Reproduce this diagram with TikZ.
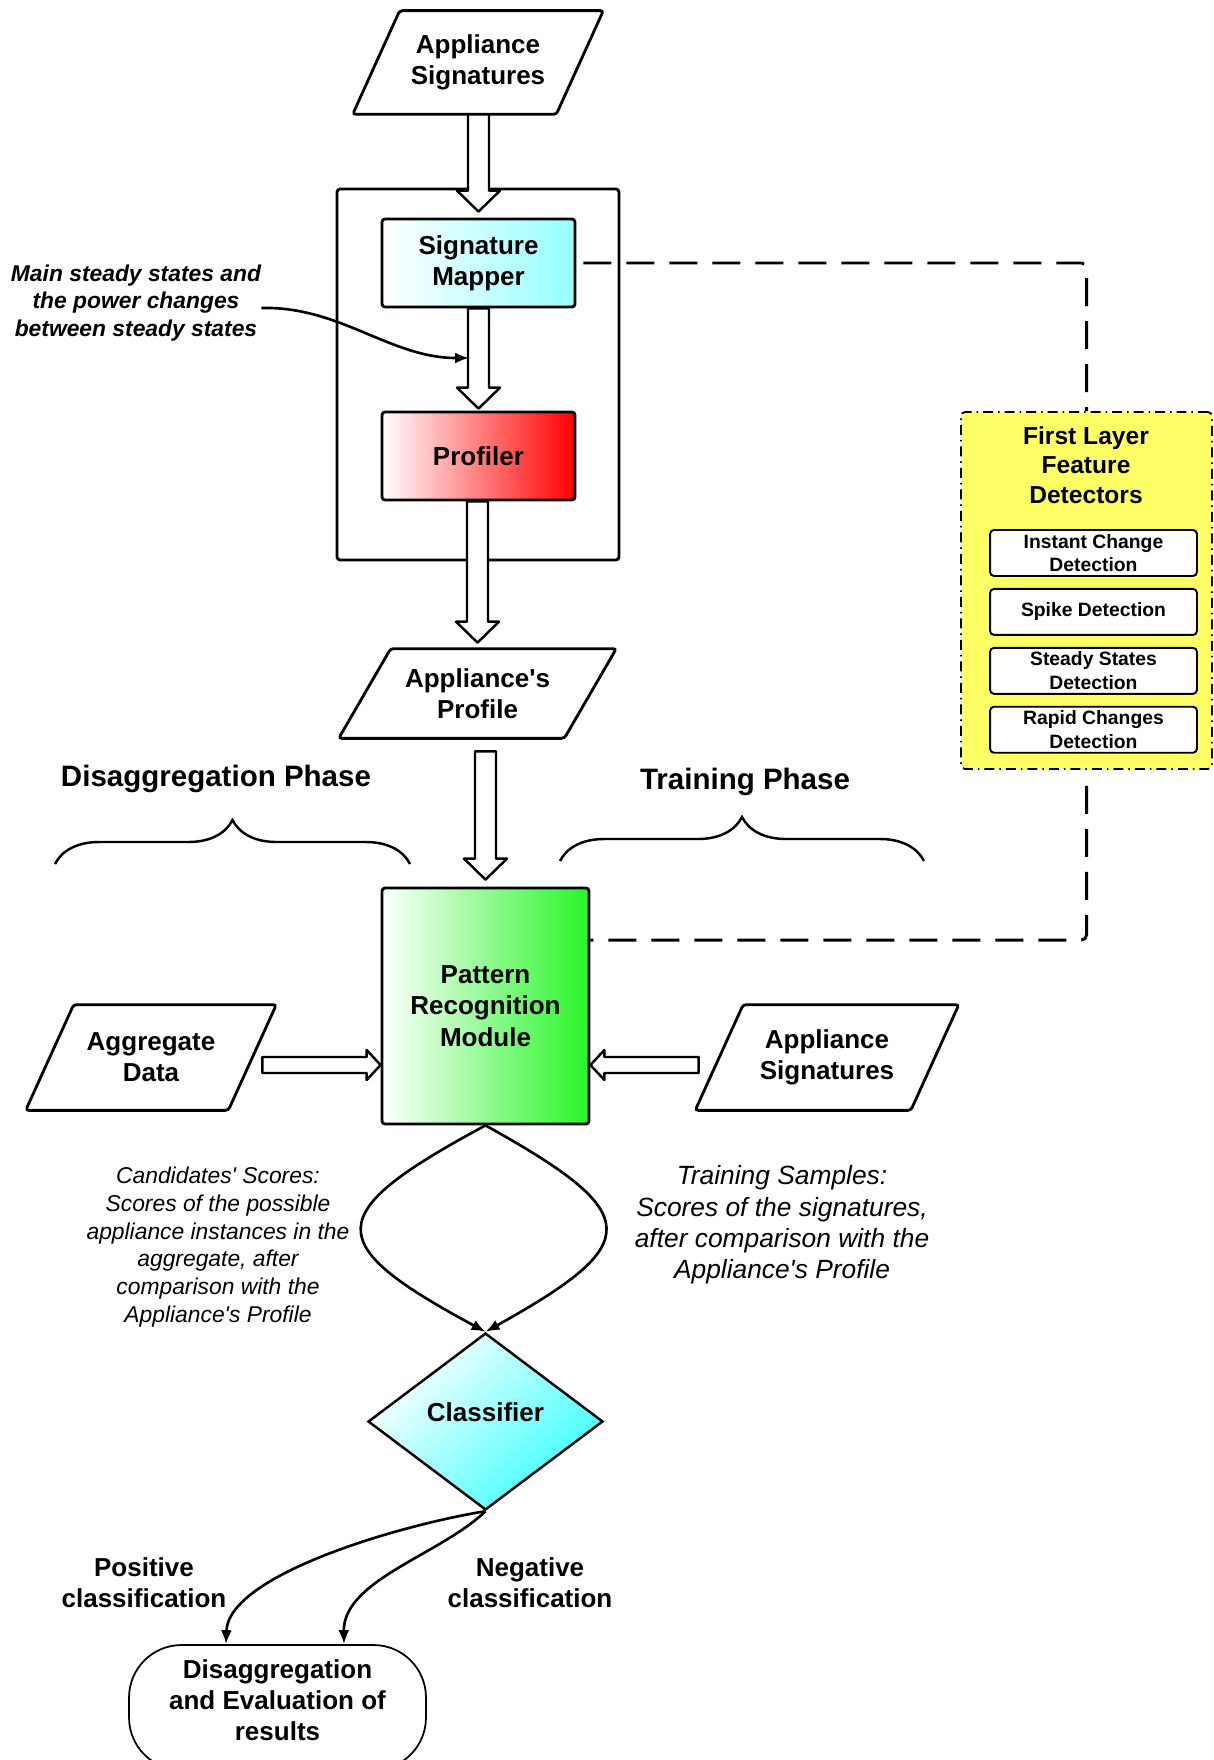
\documentclass[tikz,border=0pt]{standalone}
\usepackage{fontspec}
\setmainfont{Liberation Sans}
\usepackage{tikz}
\usetikzlibrary{calc,positioning,shapes.geometric,arrows.meta,decorations.pathreplacing}

\definecolor{mapcyan}{RGB}{150,255,255}
\definecolor{profred}{RGB}{255,0,0}
\definecolor{prmgreen}{RGB}{40,245,40}
\definecolor{clscyan}{RGB}{60,255,255}
\definecolor{layeryellow}{RGB}{255,255,102}

\newcommand{\boxfont}{\fontsize{14.8}{17.8}\selectfont\bfseries}
\newcommand{\titlefont}{\fontsize{14}{16.9}\selectfont\bfseries}
\newcommand{\detfont}{\fontsize{11}{13.4}\selectfont\bfseries}
\newcommand{\phasefont}{\fontsize{16.8}{20}\selectfont\bfseries}
\newcommand{\scorefont}{\fontsize{13}{15.8}\selectfont\itshape}

% parallelogram round a data node, #2 is half the slant
\newcommand{\slantframe}[2]{%
  \draw[frame] ([xshift=#2]#1.north west) -- ([xshift=#2]#1.north east)
    -- ([xshift=-#2]#1.south east) -- ([xshift=-#2]#1.south west) -- cycle;}
% block arrow pointing down, x taken from the tip
\newcommand{\hollowdown}[2]{%
  \draw[hollow] let \p1=(#1), \p2=(#2) in
    (\x2-0.21cm,\y1) -- (\x2-0.21cm,\y2+0.42cm) -- (\x2-0.43cm,\y2+0.42cm) -- (\x2,\y2)
    -- (\x2+0.43cm,\y2+0.42cm) -- (\x2+0.21cm,\y2+0.42cm) -- (\x2+0.21cm,\y1) -- cycle;}
% block arrow pointing left or right, y taken from the tail
\newcommand{\hollowside}[2]{%
  \draw[hollow] let \p1=(#1), \p2=(#2), \n1={sign(\x2-\x1)*0.28cm} in
    (\x1,\y1+0.16cm) -- ({\x2-\n1},\y1+0.16cm) -- ({\x2-\n1},\y1+0.3cm) -- (\x2,\y1)
    -- ({\x2-\n1},\y1-0.3cm) -- ({\x2-\n1},\y1-0.16cm) -- (\x1,\y1-0.16cm) -- cycle;}

\begin{document}
\begin{tikzpicture}
[x=0.02cm, y=-0.02cm,
frame/.style={line width=1.6pt, rounded corners=0.06cm},
datashape/.style={align=center, font=\boxfont, inner sep=0},
process/.style={rectangle, draw, line width=1.6pt, rounded corners=0.06cm,
	align=center, font=\boxfont, minimum width=3.86cm, minimum height=1.76cm},
detector/.style={draw, fill=white, line width=1.1pt, rounded corners=0.08cm,
	minimum width=4.14cm, minimum height=0.92cm, inner sep=0, align=center, font=\detfont},
hollow/.style={draw, fill=white, line width=1.4pt, line join=round},
link/.style={line width=1.7pt, dash pattern=on 0.56cm off 0.3cm, rounded corners=0.1cm},
flow/.style={line width=1.5pt, -{Latex[length=0.28cm,width=0.22cm]}},
phase/.style={decorate, decoration={brace, amplitude=0.88cm}, line width=1.4pt}]

\useasboundingbox (0,0) rectangle (1213,1760);

\node[datashape, minimum width=4.06cm, minimum height=2.06cm] (sigtop) at (478,62.5) {Appliance\\Signatures};
\slantframe{sigtop}{0.47cm}

% mapping unit
\node[draw, line width=1.6pt, rounded corners=0.06cm, minimum width=5.64cm,
	minimum height=7.42cm] (unit) at (478,374.5) {};
\node[process, left color=white, right color=mapcyan] (mapper) at (478.5,263) {Signature\\Mapper};
\node[process, left color=white, right color=profred] (profiler) at (478.5,456) {Profiler};

\node[datashape, minimum width=4.5cm, minimum height=1.78cm] (profile) at (477.5,693.5) {Appliance\textquotesingle s\\Profile};
\slantframe{profile}{0.52cm}

\node[process, left color=white, right color=prmgreen, minimum width=4.14cm,
	minimum height=4.72cm] (prm) at (485.5,1006) {Pattern\\Recognition\\Module};

\node[datashape, minimum width=4.04cm, minimum height=2.1cm] (aggr) at (151,1057.5) {Aggregate\\Data};
\slantframe{aggr}{0.48cm}
\node[datashape, minimum width=4.3cm, minimum height=2.1cm] (sigside) at (827,1057.5) {Appliance\\Signatures};
\slantframe{sigside}{0.48cm}

\node[diamond, aspect=1.33, draw, line width=1.4pt, minimum width=4.7cm, minimum height=3.54cm,
	inner sep=0, text height=0.4cm, text depth=0.4cm, top color=white, bottom color=clscyan,
	shading angle=45, font=\boxfont] (classifier) at (485.5,1421.5) {Classifier};

% terminal, running off the lower edge
\node[draw, line width=1pt, rounded corners=1.05cm, minimum width=5.94cm,
	minimum height=2.5cm] (results) at (277.5,1707.5) {};
\node[font=\boxfont, align=center] (resultstext) at (277.5,1700) {Disaggregation\\and Evaluation of\\results};

% feature detectors
\node[draw, fill=layeryellow, line width=1pt, rounded corners=0.08cm,
	dash pattern=on 0.2cm off 0.1cm on 0.03cm off 0.1cm,
	minimum width=5.02cm, minimum height=7.14cm] (layer) at (1086.5,590.5) {};
\node[font=\titlefont, align=center] (layertitle) at (1086,465) {First Layer\\Feature\\Detectors};
\node[detector] (instant) at (1093.5,553) {Instant Change\\Detection};
\node[detector, below=0.22cm of instant] (spike) {Spike Detection};
\node[detector, below=0.22cm of spike] (steadydet) {Steady States\\Detection};
\node[detector, below=0.22cm of steadydet] (rapid) {Rapid Changes\\Detection};

% block arrows
\hollowdown{sigtop.south}{[yshift=0.12cm]mapper.north}
\hollowdown{mapper.south}{[yshift=0.04cm]profiler.north}
\hollowdown{profiler.south}{[yshift=0.12cm]profile.north}
\hollowdown{[yshift=-0.26cm]profile.south}{[yshift=0.14cm]prm.north}
\hollowside{[xshift=0.2cm,yshift=-0.15cm]aggr.east}{prm.west}
\hollowside{[xshift=-0.41cm,yshift=-0.15cm]sigside.west}{prm.east}

\draw[link] ([xshift=0.14cm]mapper.east) -| (layer.north);
\draw[link] ([yshift=-0.32cm]layer.south) |- ([yshift=1.32cm]prm.east);

\node[font=\fontsize{13}{15.6}\selectfont\bfseries\itshape, align=center, inner sep=0]
	(powernote) at (136,303) {Main steady states and\\the power changes\\between steady states};
\coordinate (powertip) at (469,358);
\draw[flow] ([yshift=-0.1cm]powernote.east) .. controls (340,306) and (390,358) .. (powertip);

% phases
\node[font=\phasefont] (disphase) at (216,779) {Disaggregation Phase};
\node[font=\phasefont] (trphase) at (745,782) {Training Phase};
\draw[phase] (55,864) -- (410,864);
\draw[phase] (560,861) -- (924,861);

\node[font=\scorefont, align=center] (candidates) at (218,1247) {Candidates\textquotesingle{} Scores:\\Scores of the possible\\appliance instances in the\\aggregate, after\\comparison with the\\Appliance\textquotesingle s Profile};
\node[font=\fontsize{15}{17.8}\selectfont\itshape, align=center] (training) at (782,1225) {Training Samples:\\Scores of the signatures,\\after comparison with the\\Appliance\textquotesingle s Profile};

\draw[flow] (prm.south) .. controls (321,1214) and (321,1243) .. (classifier.north);
\draw[flow] (prm.south) .. controls (645,1214) and (645,1243) .. (classifier.north);

\node[font=\boxfont, align=center] (positive) at (144,1583) {Positive\\classification};
\node[font=\boxfont, align=center] (negative) at (530,1583) {Negative\\classification};

\draw[flow] (classifier.south) .. controls (400,1525) and (228,1575) .. ([xshift=-1.03cm]results.north);
\draw[flow] (classifier.south) .. controls (440,1555) and (343,1580) .. ([xshift=1.33cm]results.north);

\end{tikzpicture}
\end{document}
